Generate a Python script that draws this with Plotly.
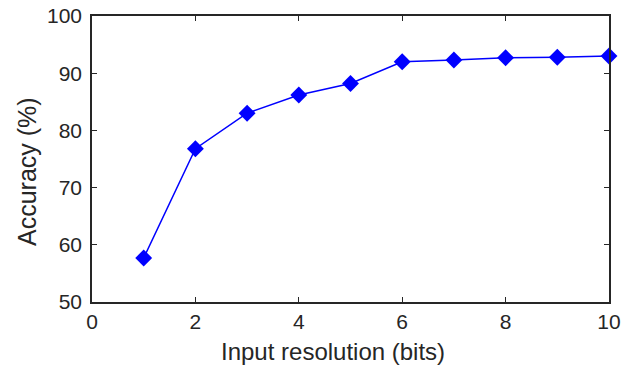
import plotly.graph_objects as go

bits = [1, 2, 3, 4, 5, 6, 7, 8, 9, 10]
accuracy = [57.7, 76.8, 83.0, 86.2, 88.2, 92.0, 92.3, 92.7, 92.8, 93.0]
x_ticks = [0, 2, 4, 6, 8, 10]
y_ticks = [50, 60, 70, 80, 90, 100]
x_title = "Input resolution (bits)"
y_title = "Accuracy (%)"

FONT = "Liberation Sans, Arial, Helvetica, sans-serif"
INK = "#262626"

fig = go.Figure()
fig.add_trace(go.Scatter(
    x=bits, y=accuracy, mode="lines+markers",
    line=dict(color="#0000ff", width=1.5),
    marker=dict(symbol="diamond", size=13, color="#0000ff"),
    showlegend=False,
    cliponaxis=False,
))

axis_common = dict(
    showline=True, linecolor=INK, linewidth=1.6, mirror="ticks",
    ticks="inside", ticklen=5, tickwidth=1.2, tickcolor=INK,
    showgrid=False, zeroline=False, automargin=False,
    tickfont=dict(family=FONT, size=21, color=INK),
)
fig.update_xaxes(range=[0, 10], tickvals=x_ticks, **axis_common)
fig.update_yaxes(range=[50, 100], tickvals=y_ticks, ticklabelstandoff=4, **axis_common)

fig.add_annotation(text=x_title, xref="paper", yref="paper",
                   x=0.466, y=-0.1748, xanchor="center", yanchor="middle",
                   showarrow=False, font=dict(family=FONT, size=24, color=INK))
fig.add_annotation(text=y_title, xref="paper", yref="paper",
                   x=-0.1257, y=0.4545, xanchor="center", yanchor="middle",
                   textangle=-90,
                   showarrow=False, font=dict(family=FONT, size=25, color=INK))

fig.update_layout(
    width=631, height=368,
    margin=dict(l=92, r=22, t=16, b=66),
    plot_bgcolor="white", paper_bgcolor="white",
)
fig.write_html("out.html")
